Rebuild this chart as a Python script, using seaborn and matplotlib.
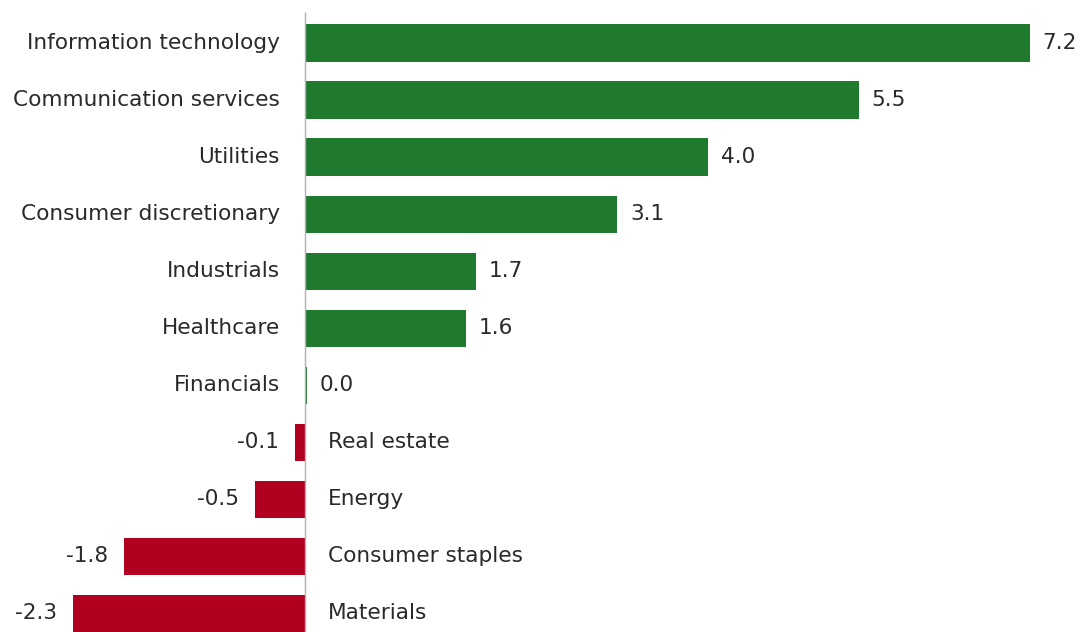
import matplotlib
matplotlib.use("Agg")
import matplotlib.pyplot as plt
import seaborn as sns
import pandas as pd

categories = ["Information technology", "Communication services", "Utilities",
              "Consumer discretionary", "Industrials", "Healthcare", "Financials",
              "Real estate", "Energy", "Consumer staples", "Materials"]
values = [7.2, 5.5, 4.0, 3.1, 1.7, 1.6, 0.02, -0.1, -0.5, -1.8, -2.3]
labels = ["7.2", "5.5", "4.0", "3.1", "1.7", "1.6", "0.0", "-0.1", "-0.5", "-1.8", "-2.3"]

GREEN = "#1f7a2e"
RED = "#b20020"

sns.set_theme(style="white")
plt.rcParams['font.family'] = ['DejaVu Sans']

df = pd.DataFrame({"cat": categories, "val": values,
                   "sign": ["pos" if v >= 0 else "neg" for v in values]})

fig = plt.figure(figsize=(10.81, 6.32), dpi=100)
ax = fig.add_axes([0, 0, 1, 1])
sns.barplot(data=df, y="cat", x="val", hue="sign", order=categories,
            palette={"pos": GREEN, "neg": RED}, width=0.65, dodge=False,
            legend=False, ax=ax, orient="h", saturation=1, linewidth=0)

ax.set_xlim(-3.03, 7.71)
ax.set_ylim(10.33, -0.754)
ax.axis("off")
ax.vlines(0, -0.54, 10.33, color="#b0b0b0", lw=1, zorder=3)

px = 1 / 100.7
fs = 15.6
tc = "#2a2a2a"
for i, (c, v, lab) in enumerate(zip(categories, values, labels)):
    if v >= 0:
        ax.text(-25 * px, i, c, ha="right", va="center", fontsize=fs, color=tc)
        ax.text(v + 13 * px, i, lab, ha="left", va="center", fontsize=fs, color=tc)
    else:
        ax.text(23 * px, i, c, ha="left", va="center", fontsize=fs, color=tc)
        ax.text(v - 16 * px, i, lab, ha="right", va="center", fontsize=fs, color=tc)

fig.savefig("out.png", dpi=100)
